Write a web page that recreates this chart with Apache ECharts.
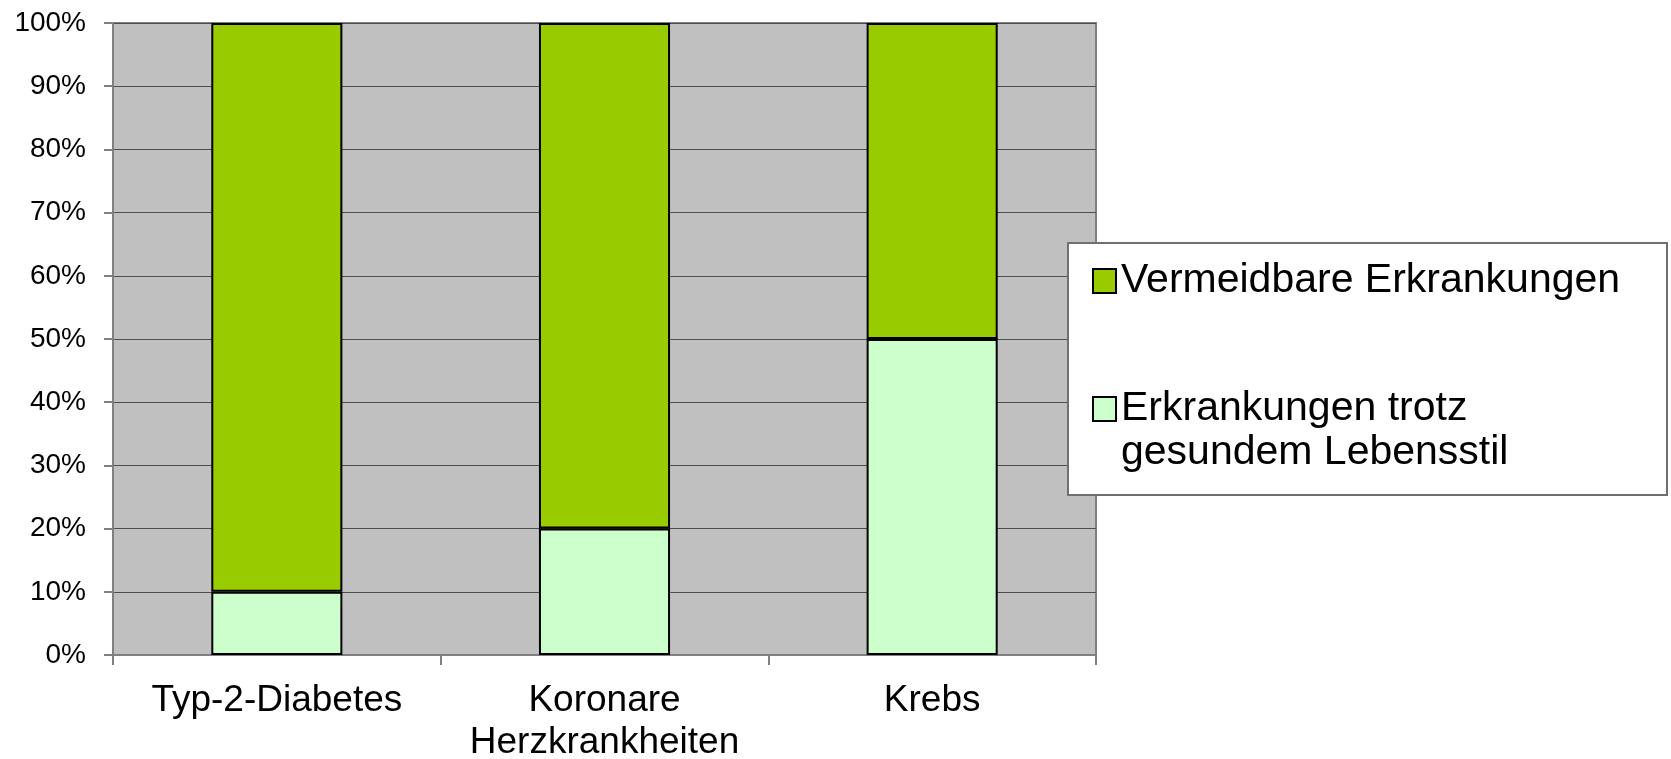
<!DOCTYPE html>
<html>
<head>
<meta charset="utf-8">
<script src="https://cdn.jsdelivr.net/npm/echarts@6/dist/echarts.min.js"></script>
<style>
html,body{margin:0;padding:0;background:#fff;}
#chart{width:1671px;height:759px;}
</style>
</head>
<body>
<div id="chart"></div>
<script>
const categories = ['Typ-2-Diabetes', 'Koronare\nHerzkrankheiten', 'Krebs'];
const seriesNames = ['Vermeidbare Erkrankungen', 'Erkrankungen trotz gesundem Lebensstil'];
const vermeidbar = [90, 80, 50];
const trotzGesund = [10, 20, 50];
const yTicks = [0, 10, 20, 30, 40, 50, 60, 70, 80, 90, 100];

const FONT = '"Liberation Sans", Arial, sans-serif';
const chart = echarts.init(document.getElementById('chart'), null, {renderer: 'canvas'});
chart.setOption({
  animation: false,
  backgroundColor: '#ffffff',
  textStyle: {fontFamily: FONT},
  grid: {
    left: 113, right: 575, top: 23, bottom: 104,
    show: true, backgroundColor: '#c0c0c0', borderColor: '#808080', borderWidth: 2,
    containLabel: false, outerBoundsMode: 'none'
  },
  graphic: [{
    type: 'rect', left: 1067, top: 242, z: 3,
    shape: {width: 599, height: 252},
    style: {fill: '#ffffff', stroke: '#707070', lineWidth: 2}
  }],
  legend: {
    orient: 'vertical', left: 1092, top: 259, padding: 0, z: 6,
    icon: 'rect',
    itemWidth: 23, itemHeight: 24, itemGap: 40,
    textStyle: {fontFamily: FONT, fontSize: 41, color: '#000', lineHeight: 44},
    data: [
      {name: seriesNames[0]},
      {name: seriesNames[1]}
    ],
    formatter: function (n) { return n === seriesNames[1] ? '\nErkrankungen trotz\ngesundem Lebensstil' : n; }
  },
  xAxis: {
    type: 'category', data: categories,
    axisLine: {show: true, lineStyle: {color: '#808080', width: 2}},
    axisTick: {show: true, length: 10, lineStyle: {color: '#808080', width: 2}},
    axisLabel: {fontFamily: FONT, fontSize: 37, color: '#000', lineHeight: 42, margin: 25, interval: 0}
  },
  yAxis: {
    type: 'value', min: yTicks[0], max: yTicks[yTicks.length - 1], interval: yTicks[1] - yTicks[0],
    axisLine: {show: true, lineStyle: {color: '#808080', width: 2}},
    axisTick: {show: true, length: 9, lineStyle: {color: '#808080', width: 2}},
    splitLine: {show: true, lineStyle: {color: '#4d4d4d', width: 1}},
    axisLabel: {fontFamily: FONT, fontSize: 28, color: '#000', margin: 27, formatter: '{value}%'}
  },
  series: [
    {
      name: seriesNames[1], type: 'bar', stack: 'total', data: trotzGesund,
      barCategoryGap: '60%',
      itemStyle: {color: '#ccffcc', borderColor: '#000', borderWidth: 2}
    },
    {
      name: seriesNames[0], type: 'bar', stack: 'total', data: vermeidbar,
      barCategoryGap: '60%',
      itemStyle: {color: '#99cc00', borderColor: '#000', borderWidth: 2}
    }
  ]
});
</script>
</body>
</html>
